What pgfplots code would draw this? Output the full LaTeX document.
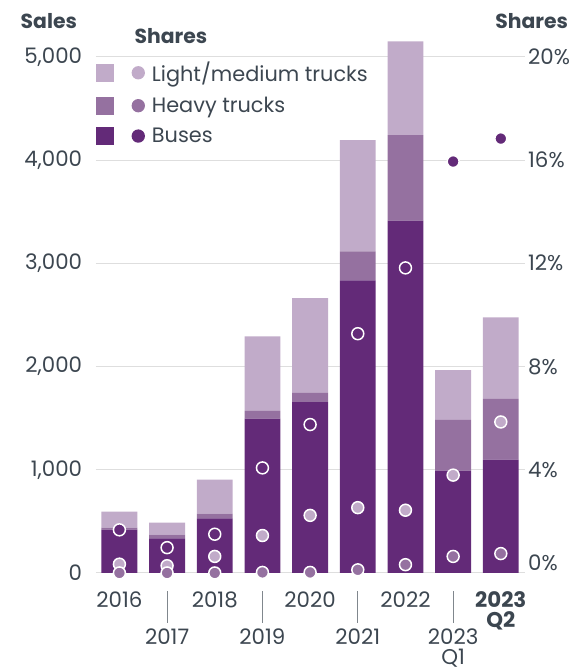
\documentclass[border=0pt]{standalone}
\usepackage{fontspec}
\setmainfont{Poppins}
\usepackage{pgfplots}
\pgfplotsset{compat=1.18}
\usepackage{pgfplotstable}
\definecolor{lightc}{HTML}{C1ABC9}
\definecolor{heavyc}{HTML}{9571A0}
\definecolor{busc}{HTML}{632A78}
\definecolor{txt}{HTML}{3C4650}
\definecolor{gridc}{HTML}{DEDEDE}

% sales (left axis) and shares in % (right axis)
\pgfplotstableread{
x bus heavy light sbus sheavy slight
0 420 20 155 1.67 0.00 0.34
1 336 36 116 0.98 0.00 0.28
2 529 45 329 1.50 0.00 0.64
3 1494 77 721 4.07 0.02 1.45
4 1655 90 917 5.75 0.02 2.23
5 2833 283 1077 9.27 0.12 2.53
6 3412 830 908 11.82 0.32 2.43
7 990 492 482 15.94 0.64 3.79
8 1097 590 789 16.83 0.75 5.85
}\data

\newcommand\tickfont{\fontsize{21.5}{20}\selectfont}
\newcommand\legfont{\fontsize{21}{25}\selectfont}
\newcommand\titfont{\fontsize{20.5}{24}\selectfont\bfseries}

\begin{document}
\begin{tikzpicture}[every node/.style={text=txt}]
\pgfplotsset{
  base/.style={
    scale only axis, width=431bp, height=539.2bp,
    xmin=-0.5, xmax=8.5,
    axis line style={draw=none}, major tick length=0,
    clip=false,
    /pgf/number format/assume math mode=true,
    tick label style={font=\tickfont, text=txt},
  }
}
\begin{axis}[base,
  ymin=0, ymax=5200,
  ybar stacked, bar width=36bp,
  xtick pos=bottom, ytick pos=left,
  ytick={0,1000,...,5000},
  /pgf/number format/1000 sep={,},
  yticklabel style={xshift=-10bp},
  ymajorgrids, grid style={gridc, line width=1bp},
  xtick={0,2,4,6,8},
  xticklabels={2016,2018,2020,2022,{\textbf{2023}\\\textbf{Q2}}},
  xticklabel style={align=center, yshift=-15bp},
  extra x ticks={1,3,5,7},
  extra x tick labels={2017,2019,2021,{2023\\Q1}},
  extra x tick style={major tick length=32bp, tick align=outside,
    major tick style={yshift=-18bp, draw=txt!65, line width=1bp},
    xticklabel style={yshift=-5.5bp}},
  legend image code/.code={
    \fill (0bp,-9bp) rectangle (18bp,9bp);
    \fill (42bp,0bp) circle (6.7bp);},
  reverse legend,
  legend cell align=left,
  legend style={at={(axis description cs:0,1)}, anchor=north west,
    xshift=0.7bp, yshift=-24bp, draw=none, fill=none, inner sep=0pt,
    row sep=10bp, font=\legfont,
    /tikz/every odd column/.append style={column sep=5bp},
    nodes={text=txt}},
]
\addplot[fill=busc, draw=none] table[x=x, y=bus]{\data};
\addlegendentry{Buses}
\addplot[fill=heavyc, draw=none] table[x=x, y=heavy]{\data};
\addlegendentry{Heavy trucks}
\addplot[fill=lightc, draw=none] table[x=x, y=light]{\data};
\addlegendentry{Light/medium trucks}

\node[anchor=base west, font=\titfont]
  at ([xshift=-78.7bp, yshift=8bp]axis description cs:0,1) {Sales};
\node[anchor=base west, font=\titfont]
  at ([xshift=35.7bp, yshift=-7bp]axis description cs:0,1) {Shares};
\node[anchor=base east, font=\titfont]
  at ([xshift=47bp, yshift=8bp]axis description cs:1,1) {Shares};
\end{axis}

\begin{axis}[base,
  ymin=0, ymax=20.8,
  axis y line*=right, axis x line=none,
  ytick={4,8,...,20},
  extra y ticks={0},
  extra y tick style={yticklabel style={yshift=10bp}},
  yticklabel={\pgfmathprintnumber{\tick}\%},
]
\addplot[only marks, mark=*, mark size=6bp,
  mark options={fill=lightc, draw=white, line width=1.5bp}]
  table[x=x, y=slight]{\data};
\addplot[only marks, mark=*, mark size=6bp,
  mark options={fill=heavyc, draw=white, line width=1.5bp}]
  table[x=x, y=sheavy]{\data};
\addplot[only marks, mark=*, mark size=6bp,
  mark options={fill=busc, draw=white, line width=1.5bp}]
  table[x=x, y=sbus]{\data};
\end{axis}
\pgfresetboundingbox
\path ([xshift=-96bp, yshift=-98.5bp]current axis.south west)
  rectangle ([xshift=53bp, yshift=36.3bp]current axis.north east);
\end{tikzpicture}
\end{document}
